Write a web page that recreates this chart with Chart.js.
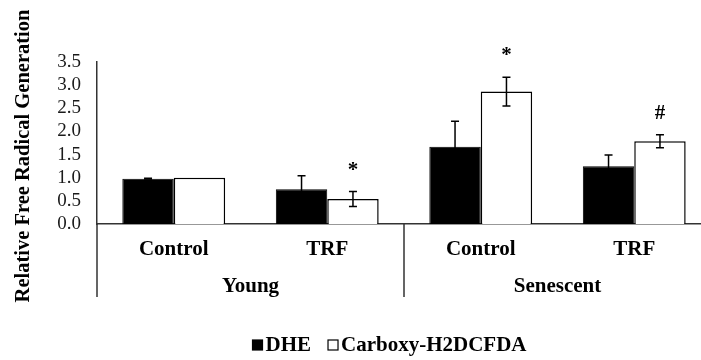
<!DOCTYPE html>
<html>
<head>
<meta charset="utf-8">
<script src="https://cdn.jsdelivr.net/npm/chart.js@4.4.1/dist/chart.umd.min.js"></script>
<style>
  html, body { margin: 0; padding: 0; background: #fff; overflow: hidden; }
  #wrap { position: relative; width: 780px; height: 360px; }
</style>
</head>
<body>
<div id="wrap"><canvas id="chart"></canvas></div>
<script>
const categories = ["Control", "TRF", "Control", "TRF"];
const groups = ["Young", "Senescent"];
const dhe = [0.98, 0.75, 1.67, 1.25];
const dheErr = [0.01, 0.29, 0.55, 0.24];
const carboxy = [1.00, 0.54, 2.86, 1.79];
const carboxyErr = [0, 0.16, 0.31, 0.14];
const carboxyMarks = ["", "*", "*", "#"];
const yTicks = [0, 0.5, 1, 1.5, 2, 2.5, 3, 3.5];
const yTitle = "Relative Free Radical Generation";

const serif = "'Liberation Serif', 'Times New Roman', serif";
const boldFont = "bold 21px " + serif;

// error bars, significance marks, group labels, legend and the y title
const extras = {
  id: "extras",
  afterDatasetsDraw(chart) {
    const { ctx, scales: { y } } = chart;
    const errs = [dheErr, carboxyErr];
    ctx.save();
    ctx.strokeStyle = "#000";
    ctx.lineWidth = 1.5;
    chart.data.datasets.forEach((ds, i) => {
      chart.getDatasetMeta(i).data.forEach((bar, j) => {
        const e = errs[i][j];
        if (!e) return;
        const top = y.getPixelForValue(ds.data[j] + e);
        const bot = y.getPixelForValue(ds.data[j] - e);
        ctx.beginPath();
        ctx.moveTo(bar.x, top); ctx.lineTo(bar.x, bot);
        ctx.moveTo(bar.x - 4, top); ctx.lineTo(bar.x + 4, top);
        ctx.moveTo(bar.x - 4, bot); ctx.lineTo(bar.x + 4, bot);
        ctx.stroke();
      });
    });

    ctx.fillStyle = "#000";
    ctx.font = boldFont;
    ctx.textAlign = "center";
    ctx.textBaseline = "bottom";
    chart.getDatasetMeta(1).data.forEach((bar, j) => {
      if (!carboxyMarks[j]) return;
      ctx.fillText(carboxyMarks[j], bar.x, y.getPixelForValue(carboxy[j] + carboxyErr[j]) - 11);
    });
    ctx.restore();
  },
  afterDraw(chart) {
    const { ctx, chartArea, scales: { x } } = chart;
    const left = chartArea.left;
    const right = chartArea.right;
    const bottom = chartArea.bottom;
    const divider = (x.getPixelForValue(1) + x.getPixelForValue(2)) / 2;

    ctx.save();
    ctx.strokeStyle = "#333";
    ctx.lineWidth = 1.5;
    ctx.beginPath();
    ctx.moveTo(left, bottom); ctx.lineTo(left, bottom + 73);
    ctx.moveTo(divider, bottom); ctx.lineTo(divider, bottom + 73);
    ctx.stroke();

    ctx.fillStyle = "#000";
    ctx.font = boldFont;
    ctx.textAlign = "center";
    ctx.textBaseline = "middle";
    ctx.fillText(groups[0], (left + divider) / 2, bottom + 63);
    ctx.fillText(groups[1], (divider + right) / 2, bottom + 63);

    // legend
    const items = chart.data.datasets.map(ds => ({
      text: ds.label, fill: ds.backgroundColor, w: ctx.measureText(ds.label).width
    }));
    const total = items.reduce((s, it) => s + 10 + 4 + it.w, 0) + 16;
    let lx = 390 - total / 2;
    const ly = bottom + 122;
    ctx.textAlign = "left";
    ctx.lineWidth = 1.2;
    items.forEach(it => {
      ctx.fillStyle = it.fill;
      ctx.fillRect(lx, ly - 6, 10, 10);
      ctx.strokeStyle = "#000";
      ctx.strokeRect(lx, ly - 6, 10, 10);
      ctx.fillStyle = "#000";
      ctx.fillText(it.text, lx + 13, ly);
      lx += 10 + 4 + it.w + 16;
    });

    ctx.textAlign = "center";
    ctx.font = "bold 20.5px " + serif;
    ctx.translate(24, bottom - 68);
    ctx.rotate(-Math.PI / 2);
    ctx.fillText(yTitle, 0, 0);
    ctx.restore();
  }
};

new Chart(document.getElementById("chart"), {
  type: "bar",
  data: {
    labels: categories,
    datasets: [
      { label: "DHE", data: dhe, backgroundColor: "#000", borderColor: "#000", borderWidth: 1 },
      { label: "Carboxy-H2DCFDA", data: carboxy, backgroundColor: "#fff", borderColor: "#000", borderWidth: 1.5 }
    ]
  },
  options: {
    responsive: true,
    maintainAspectRatio: false,
    animation: false,
    datasets: { bar: { categoryPercentage: 0.67, barPercentage: 1.0 } },
    layout: { padding: { left: 0, right: 69, top: 62, bottom: 31 } },
    plugins: {
      legend: { display: false },
      tooltip: { enabled: false }
    },
    scales: {
      x: {
        grid: { display: false, drawTicks: false },
        border: { color: "#333", width: 1.5 },
        ticks: { padding: 13, color: "#000", font: { family: serif, size: 21, weight: "bold" } },
        afterFit(scale) { scale.height = 105; }
      },
      y: {
        min: 0,
        max: 3.5,
        grid: { display: false, drawTicks: false },
        border: { color: "#333", width: 1.5 },
        ticks: {
          padding: 16,
          autoSkip: false,
          color: "#1a1a1a",
          font: { family: serif, size: 19 },
          callback: v => v.toFixed(1)
        },
        afterBuildTicks(scale) { scale.ticks = yTicks.map(v => ({ value: v })); },
        afterFit(scale) { scale.width = 97; }
      }
    }
  },
  plugins: [extras]
});
</script>
</body>
</html>
